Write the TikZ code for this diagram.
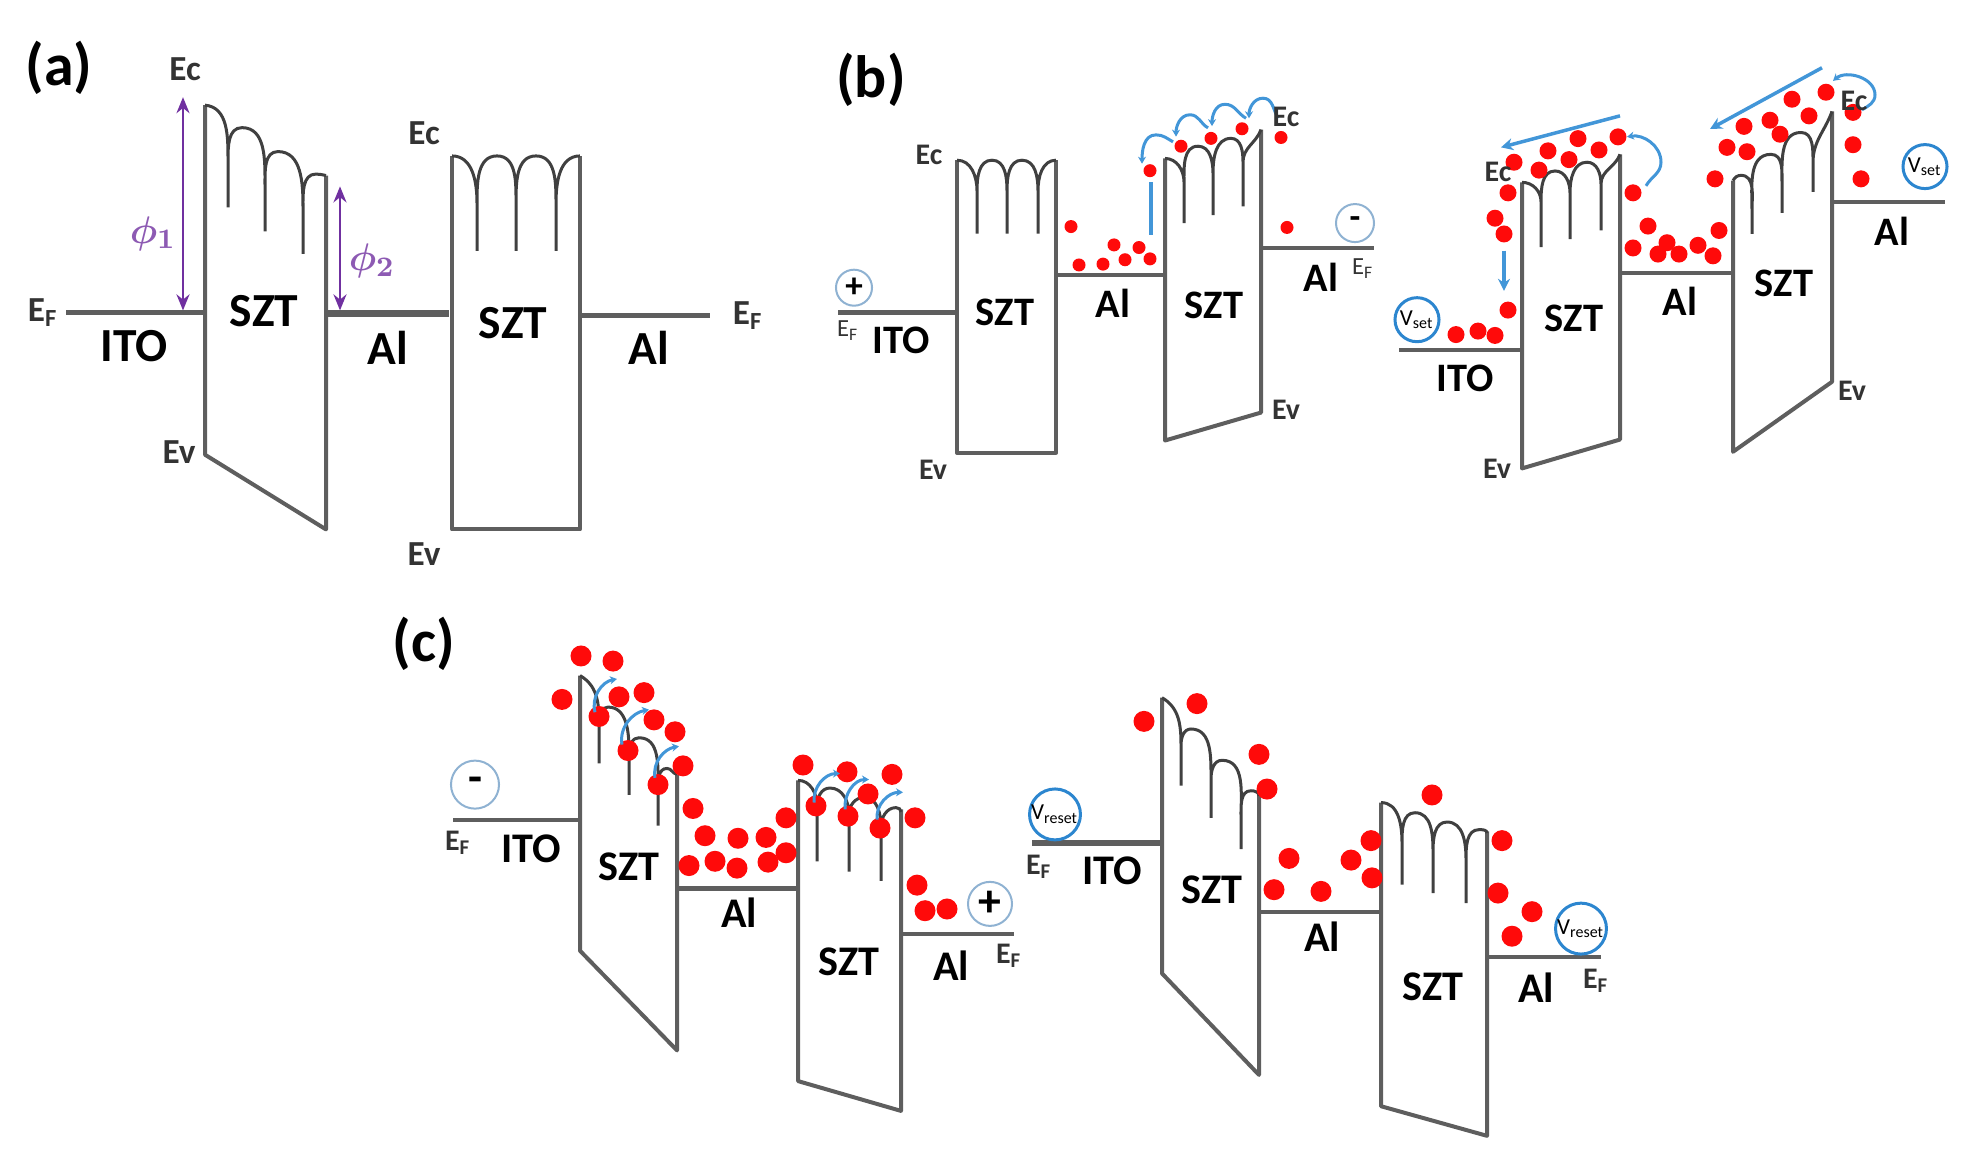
\documentclass[tikz,border=0pt]{standalone}
\usepackage{fontspec}
\setmainfont{Carlito}
\usetikzlibrary{arrows.meta}
\definecolor{bandgray}{HTML}{5E5E5E}
\definecolor{dotred}{HTML}{FF0A0A}
\definecolor{hopblue}{HTML}{4296D8}
\definecolor{ringblue}{HTML}{2C86CF}
\definecolor{paleblue}{HTML}{8FB2D2}
\definecolor{phipurple}{HTML}{7030A0}
\tikzset{
  band/.style={draw=bandgray,line width=0.04cm,line join=round},
  well/.style={draw=black!75,line width=0.03cm},
  metal/.style={draw=bandgray,line width=0.05cm},
  archup/.style={out=90,in=180},
  archdn/.style={out=0,in=90},
  hop/.style={draw=hopblue,line width=0.03cm,-{Stealth[length=0.07cm,width=0.08cm]}},
  drift/.style={draw=hopblue,line width=0.035cm,-{Stealth[length=0.12cm,width=0.12cm]}},
  phiarrow/.style={draw=phipurple,line width=0.025cm,{Stealth[length=0.16cm,width=0.13cm]}-{Stealth[length=0.16cm,width=0.13cm]}},
  panel/.style={font=\fontsize{17}{20}\selectfont\bfseries},
  lbla/.style={font=\fontsize{13.5}{16}\selectfont\bfseries},
  lblb/.style={font=\fontsize{11.5}{14}\selectfont\bfseries},
  lblc/.style={font=\fontsize{12}{14}\selectfont\bfseries},
  lvl/.style={font=\fontsize{8.5}{10}\selectfont\bfseries,text=black!80,inner sep=0pt},
  lvla/.style={font=\fontsize{10}{12}\selectfont\bfseries,text=black!80,inner sep=0pt},
  phitext/.style={text=phipurple!80,font=\fontsize{11}{13}\selectfont\boldmath},
  signs/.style={circle,draw=paleblue,line width=0.02cm,inner sep=0pt,font=\fontsize{10}{10}\selectfont\bfseries},
  vring/.style={circle,draw=ringblue,line width=0.03cm,inner sep=0pt,font=\fontsize{6.5}{7}\selectfont},
}
\begin{document}
\begin{tikzpicture}[x=0.01cm,y=0.01cm]
  \useasboundingbox (0,0) rectangle (1975,-1175);
  % panel a
  \begin{scope}[y=0.007255cm]
  \draw (59,-94) node[panel] (tita) {(a)};
  \draw[metal] (66,-431) -- (204,-431);
  \draw[band] (205,-145) -- (205,-627) -- (326,-730) -- (326,-242);
  \draw[well] (205,-145) to[out=-5,in=90] (228,-222) -- (228,-286) (228,-222) to[archup] (242,-176) to[archdn] (265,-255) -- (265,-319) (265,-255) to[archup] (278,-209) to[archdn] (303,-285) -- (303,-350) (303,-285) to[archup] (316,-240) to[out=0,in=170] (326,-242);
  \draw[metal,line width=0.07cm] (327,-432) -- (449,-432);
  \draw[band] (452,-215) -- (452,-730) -- (580,-730) -- (580,-215);
  \draw[well] (452,-215) to[archdn] (477,-280) -- (477,-346) (477,-280) to[archup] (497,-215) to[archdn] (516,-280) -- (516,-346) (516,-280) to[archup] (536,-215) to[archdn] (556,-280) -- (556,-346) (556,-280) to[archup] (580,-215);
  \draw[metal] (582,-435) -- (710,-435);
  \draw[phiarrow] (183,-134) -- (183,-428);
  \draw[phiarrow] (340,-257) -- (340,-428);
  \draw (153,-322) node[phitext] (phia) {$\phi_1$};
  \draw (372,-360) node[phitext] (phib) {$\phi_2$};
  \draw (185,-96) node[lvla] (eca) {Ec};
  \draw (424,-184) node[lvla] (ecb) {Ec};
  \draw (179,-623) node[lvla] (eva) {Ev};
  \draw (424,-764) node[lvla] (evb) {Ev};
  \draw (43,-431) node[lvla] (efa) {E\textsubscript{F}};
  \draw (748,-435) node[lvla] (efb) {E\textsubscript{F}};
  \draw (134,-477) node[lbla] (itoa) {ITO};
  \draw (264,-429) node[lbla] (szta) {SZT};
  \draw (388,-480) node[lbla] (ala) {Al};
  \draw (513,-445) node[lbla] (sztb) {SZT};
  \draw (649,-480) node[lbla] (alb) {Al};
  \end{scope}
  % panel b, left
  \begin{scope}[y=0.00873cm,yshift=-0.03cm]
  \draw (871,-88) node[panel] (titb) {(b)};
  \draw[metal] (838,-354) -- (957,-354);
  \draw[band] (957,-180) -- (957,-515) -- (1056,-515) -- (1056,-180);
  \draw[well] (957,-180) to[archdn] (977,-215) -- (977,-264) (977,-215) to[archup] (992,-180) to[archdn] (1007,-215) -- (1007,-264) (1007,-215) to[archup] (1022,-180) to[archdn] (1038,-215) -- (1038,-264) (1038,-215) to[archup] (1056,-180);
  \draw[metal,line width=0.04cm] (1058,-312) -- (1164,-312);
  \draw[band] (1165,-178) -- (1165,-501) -- (1261,-469) -- (1261,-145);
  \draw[well] (1165,-178) to[archdn] (1184,-205) -- (1184,-252) (1184,-205) to[archup] (1198,-164) to[archdn] (1213,-195) -- (1213,-243) (1213,-195) to[archup] (1231,-155) to[archdn] (1243,-182) -- (1243,-233) (1243,-182) to[out=90,in=-110] (1261,-145);
  \draw[metal,line width=0.04cm] (1263,-281) -- (1374,-281);
  \foreach \p in {(1071,-256),(1079,-300),(1103,-299),(1114,-277),(1125,-294),(1139,-280),(1150,-293),(1150,-192),(1181,-164),(1211,-155),(1242,-144),(1281,-154),(1287,-257)}
    \fill[dotred] \p circle (0.065cm);
  \draw[hopblue,line width=0.04cm] (1151,-205) -- (1151,-266);
  \draw[hop] (1173,-159) to[out=150,in=0] (1156,-151) to[out=180,in=90] (1142,-184);
  \draw[hop] (1208,-143) to[out=150,in=0] (1190,-128) to[out=180,in=90] (1176,-153);
  \draw[hop] (1246,-132) to[out=150,in=0] (1225,-116) to[out=180,in=90] (1212,-141);
  \draw[hop] (1278,-132) to[out=120,in=0] (1263,-109) to[out=180,in=90] (1249,-132);
  \draw (854,-326) node[signs,minimum size=0.36cm] (plusb) {+};
  \draw (1355,-252) node[signs,minimum size=0.38cm] (minusb) {-};
  \draw (929,-174) node[lvl] (ecc) {Ec};
  \draw (933,-534) node[lvl] (evc) {Ev};
  \draw (1286,-131) node[lvl] (ecd) {Ec};
  \draw (1286,-466) node[lvl] (evd) {Ev};
  \draw (848,-375) node[lvl,font=\fontsize{7}{8}\selectfont] (efc) {E\textsubscript{F}};
  \draw (1363,-304) node[lvl,font=\fontsize{7}{8}\selectfont] (efd) {E\textsubscript{F}};
  \draw (901,-386) node[lblb] (itob) {ITO};
  \draw (1005,-354) node[lblb] (sztc) {SZT};
  \draw (1113,-344) node[lblb] (alc) {Al};
  \draw (1214,-346) node[lblb] (sztd) {SZT};
  \draw (1321,-314) node[lblb] (ald) {Al};
  \end{scope}
  % panel b, right
  \begin{scope}[y=0.00875cm,yshift=-0.0475cm]
  \draw[metal,line width=0.04cm] (1399,-395) -- (1522,-395);
  \draw[band] (1522,-203) -- (1522,-530) -- (1620,-497) -- (1620,-171);
  \draw[well] (1522,-203) to[archdn] (1541,-225) -- (1541,-277) (1541,-225) to[archup] (1555,-190) to[archdn] (1570,-215) -- (1570,-268) (1570,-215) to[archup] (1587,-180) to[archdn] (1601,-205) -- (1601,-258) (1601,-205) to[out=90,in=-110] (1620,-171);
  \draw[metal,line width=0.04cm] (1621,-307) -- (1733,-307);
  \draw[band] (1733,-201) -- (1733,-511) -- (1832,-431) -- (1832,-122);
  \draw[well] (1733,-201) to[out=60,in=180] (1741,-195) to[archdn] (1752,-235) -- (1752,-262) (1752,-235) to[archup] (1771,-171) to[archdn] (1782,-205) -- (1782,-238) (1782,-205) to[archup] (1801,-146) to[archdn] (1813,-180) -- (1813,-214) (1813,-180) to[out=90,in=-110] (1832,-122);
  \draw[metal,line width=0.04cm] (1833,-225) -- (1945,-225);
  \foreach \p in {(1456,-377),(1478,-373),(1495,-378),(1508,-349),(1504,-262),(1495,-244),(1508,-215),(1514,-180),(1539,-189),(1548,-167),(1569,-177),(1578,-153),(1599,-166),(1618,-151),(1633,-215),(1648,-253),(1633,-278),(1658,-285),(1667,-272),(1679,-285),(1698,-275),(1713,-287),(1719,-258),(1715,-199),(1727,-163),(1747,-168),(1744,-139),(1770,-132),(1780,-148),(1792,-108),(1809,-127),(1826,-100),(1853,-123),(1853,-160),(1861,-199)}
    \fill[dotred] \p circle (0.085cm);
  \draw[drift] (1620,-127) -- (1501,-163);
  \draw[drift] (1822,-72) -- (1710,-142);
  \draw[drift] (1504,-281) -- (1504,-327);
  \draw[hop] (1646,-207) to[out=60,in=-90] (1661,-180) to[out=90,in=10] (1627,-151);
  \draw[hop] (1862,-120) to[out=30,in=-90] (1875,-103) to[out=90,in=40] (1833,-87);
  \draw (1417,-360) node[vring,minimum size=0.44cm] (setb) {V\textsubscript{set}};
  \draw (1925,-185) node[vring,minimum size=0.44cm] (setc) {V\textsubscript{set}};
  \draw (1498,-191) node[lvl] (ece) {Ec};
  \draw (1497,-531) node[lvl] (eve) {Ev};
  \draw (1854,-110) node[lvl] (ecf) {Ec};
  \draw (1852,-441) node[lvl] (evf) {Ev};
  \draw (1465,-427) node[lblb] (itoc) {ITO};
  \draw (1574,-358) node[lblb] (szte) {SZT};
  \draw (1680,-339) node[lblb] (ale) {Al};
  \draw (1784,-318) node[lblb] (sztf) {SZT};
  \draw (1892,-259) node[lblb] (alf) {Al};
  \end{scope}
  % panel c, left
  \begin{scope}[y=0.00851cm,yshift=-0.86cm]
  \draw (424,-655) node[panel] (titc) {(c)};
  \draw[metal,line width=0.04cm] (453,-862) -- (580,-862);
  \draw[band] (580,-692) -- (580,-1015) -- (677,-1132) -- (677,-808);
  \draw[well] (580,-692) to[out=-30,in=90] (599,-745) -- (599,-795) (599,-745) to[archup] (608,-729) to[archdn] (629,-780) -- (629,-832) (629,-780) to[archup] (639,-765) to[archdn] (658,-825) -- (658,-868) (658,-825) to[archup] (667,-801) to[out=0,in=170] (677,-808);
  \draw[metal] (677,-942) -- (798,-942);
  \draw[band] (798,-815) -- (798,-1168) -- (901,-1203) -- (901,-849);
  \draw[well] (798,-815) to[archdn] (817,-845) -- (817,-910) (817,-845) to[archup] (830,-824) to[archdn] (849,-855) -- (849,-922) (849,-855) to[archup] (864,-835) to[archdn] (881,-870) -- (881,-933) (881,-870) to[archup] (896,-847) to[archdn] (901,-852);
  \draw[metal,line width=0.04cm] (901,-995) -- (1014,-995);
  \foreach \p in {(581,-669),(613,-675),(562,-720),(619,-717),(644,-712),(599,-740),(654,-744),(675,-758),(628,-780),(683,-798),(658,-820),(693,-848),(705,-880),(738,-883),(766,-882),(786,-859),(786,-900),(768,-911),(737,-918),(715,-910),(689,-915),(803,-797),(847,-805),(892,-808),(868,-831),(816,-845),(848,-857),(880,-871),(915,-859),(917,-938),(925,-968),(947,-966)}
    \fill[dotred] \p circle (0.105cm);
  \draw[hop] (595,-735) to[out=105,in=190] (617,-696);
  \draw[hop] (622,-773) to[out=100,in=190] (649,-732);
  \draw[hop] (655,-812) to[out=100,in=190] (679,-775);
  \draw[hop] (814,-841) to[out=95,in=180] (840,-807);
  \draw[hop] (845,-849) to[out=95,in=180] (869,-814);
  \draw[hop] (877,-861) to[out=95,in=180] (903,-829);
  \draw (475,-820) node[signs,minimum size=0.48cm,font=\fontsize{13}{13}\selectfont\bfseries] (minusc) {-};
  \draw (990,-960) node[signs,minimum size=0.44cm,font=\fontsize{13}{13}\selectfont\bfseries] (plusc) {+};
  \draw (458,-888) node[lvl] (efe) {E\textsubscript{F}};
  \draw (1009,-1021) node[lvl] (eff) {E\textsubscript{F}};
  \draw (531,-895) node[lblc] (itod) {ITO};
  \draw (629,-917) node[lblc] (sztg) {SZT};
  \draw (739,-970) node[lblc] (alg) {Al};
  \draw (849,-1028) node[lblc] (szth) {SZT};
  \draw (951,-1032) node[lblc] (alh) {Al};
  \end{scope}
  % panel c, right
  \begin{scope}[y=0.00846cm,yshift=-1.022cm]
  \draw[metal,line width=0.06cm] (1032,-876) -- (1162,-876);
  \draw[band] (1162,-704) -- (1162,-1030) -- (1259,-1150) -- (1259,-816);
  \draw[well] (1162,-704) to[out=-30,in=90] (1181,-760) -- (1181,-808) (1181,-760) to[archup] (1191,-741) to[archdn] (1211,-800) -- (1211,-846) (1211,-800) to[archup] (1222,-778) to[archdn] (1241,-845) -- (1241,-883) (1241,-845) to[archup] (1251,-814) to[archdn] (1259,-820);
  \draw[metal,line width=0.04cm] (1259,-957) -- (1381,-957);
  \draw[band] (1381,-828) -- (1381,-1187) -- (1487,-1222) -- (1487,-862);
  \draw[well] (1381,-828) to[archdn] (1402,-875) -- (1402,-925) (1402,-875) to[archup] (1415,-840) to[archdn] (1433,-885) -- (1433,-935) (1433,-885) to[archup] (1447,-851) to[archdn] (1466,-895) -- (1466,-947) (1466,-895) to[archup] (1479,-860) to[archdn] (1487,-864);
  \draw[metal,line width=0.04cm] (1487,-1011) -- (1601,-1011);
  \foreach \p in {(1144,-732),(1197,-711),(1259,-771),(1267,-812),(1432,-819),(1371,-873),(1351,-896),(1372,-917),(1289,-894),(1274,-931),(1321,-933),(1502,-873),(1498,-935),(1532,-957),(1512,-986)}
    \fill[dotred] \p circle (0.105cm);
  \draw (1055,-842) node[vring,minimum size=0.5cm] (reseta) {V\textsubscript{reset}};
  \draw (1581,-977) node[vring,minimum size=0.5cm] (resetb) {V\textsubscript{reset}};
  \draw (1039,-904) node[lvl] (efg) {E\textsubscript{F}};
  \draw (1596,-1039) node[lvl] (efh) {E\textsubscript{F}};
  \draw (1112,-909) node[lblc] (itoe) {ITO};
  \draw (1212,-931) node[lblc] (szti) {SZT};
  \draw (1322,-986) node[lblc] (ali) {Al};
  \draw (1433,-1046) node[lblc] (sztj) {SZT};
  \draw (1536,-1047) node[lblc] (alj) {Al};
  \end{scope}
\end{tikzpicture}
\end{document}
